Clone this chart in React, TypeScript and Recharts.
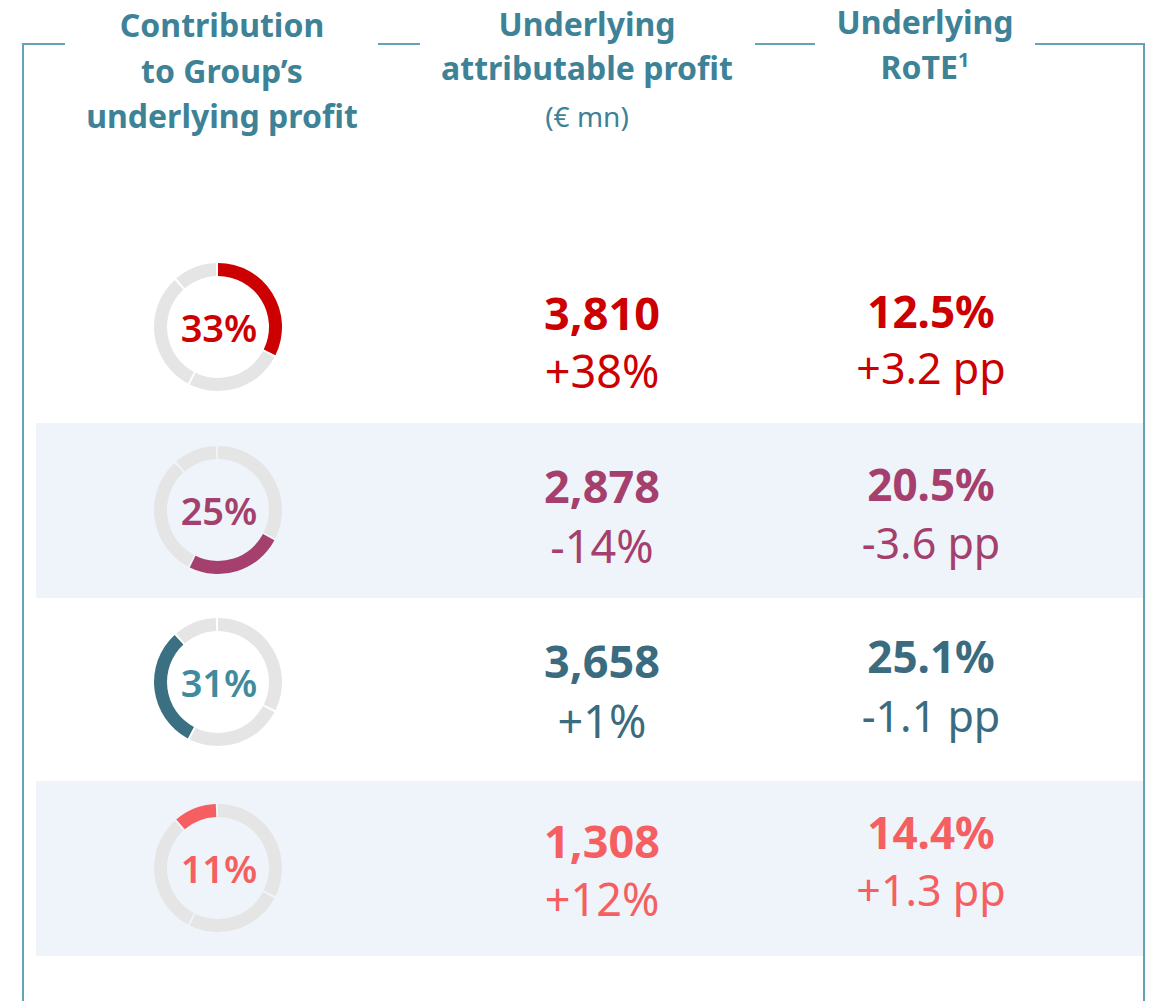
import React from 'react'
import { PieChart, Pie, Cell } from 'recharts'

// contribution of each region to Group's underlying profit (%)
const shares = [33, 25, 31, 11]
const profits = ['3,810', '2,878', '3,658', '1,308']
const profitChange = ['+38%', '-14%', '+1%', '+12%']
const rote = ['12.5%', '20.5%', '25.1%', '14.4%']
const roteChange = ['+3.2 pp', '-3.6 pp', '-1.1 pp', '+1.3 pp']

const arcColors = ['#cc0000', '#a53f6e', '#3b6f82', '#f55f61']
const pctColors = ['#cc0000', '#a53f6e', '#3f8a9d', '#f55f61']
const textColors = ['#cc0000', '#a53f6e', '#3b6b7e', '#f55f61']

// layout: donut centres and text lines per row
const rowCenters = [327, 510, 682, 868]
const profitY = [[312, 370], [485, 545], [660, 720], [840, 898]]
const roteY = [[312, 368], [485, 543], [657, 716], [833, 890]]
const shaded = [false, true, false, true]

const HEAD = '#3e8297'
const LINE = '#62a3b6'
const FONT = '"Noto Sans", "Open Sans", sans-serif'
const GRAY = '#e5e5e5'
const SHADE = '#eef4f9'

const pieData = shares.map((v, i) => ({ name: 'r' + i, value: v }))

function Txt({ x, y, size, weight, color, children, w = 400 }: any) {
  return (
    <div
      style={{
        position: 'absolute', left: x - w / 2, top: y - size * 0.7, width: w,
        textAlign: 'center', fontSize: size, fontWeight: weight, color,
        lineHeight: `${size * 1.4}px`, fontFamily: FONT, whiteSpace: 'nowrap',
      }}
    >
      {children}
    </div>
  )
}

function HLine({ x1, x2, y }: { x1: number; x2: number; y: number }) {
  return <div style={{ position: 'absolute', left: x1, top: y, width: x2 - x1, height: 2, background: LINE }} />
}

export default function App() {
  return (
    <div style={{ position: 'absolute', left: 0, top: 0, width: 1149, height: 1001, background: '#fff', overflow: 'hidden', fontFamily: FONT }}>
      {shaded.map((s, i) => s && (
        <div key={i} style={{ position: 'absolute', left: 36, top: rowCenters[i] - 87, width: 1107, height: 175, background: SHADE }} />
      ))}

      {/* frame */}
      <HLine x1={22} x2={65} y={43} />
      <HLine x1={378} x2={420} y={43} />
      <HLine x1={755} x2={815} y={43} />
      <HLine x1={1035} x2={1145} y={43} />
      <div style={{ position: 'absolute', left: 22, top: 43, width: 2, height: 960, background: LINE }} />
      <div style={{ position: 'absolute', left: 1143, top: 43, width: 2, height: 960, background: LINE }} />

      {/* headers */}
      <Txt x={222} y={25} size={32} weight={700} color={HEAD}>Contribution</Txt>
      <Txt x={222} y={71} size={32} weight={700} color={HEAD}>to Group’s</Txt>
      <Txt x={222} y={116} size={32} weight={700} color={HEAD}>underlying profit</Txt>
      <Txt x={587} y={24} size={32} weight={700} color={HEAD}>Underlying</Txt>
      <Txt x={587} y={68} size={32} weight={700} color={HEAD}>attributable profit</Txt>
      <Txt x={587} y={117} size={28} weight={400} color={HEAD}>(€ mn)</Txt>
      <Txt x={925} y={22} size={32} weight={700} color={HEAD}>Underlying</Txt>
      <Txt x={925} y={67} size={32} weight={700} color={HEAD}>RoTE<sup style={{ fontSize: 20, verticalAlign: 'top', lineHeight: '30px' }}>1</sup></Txt>

      <div style={{ position: 'absolute', left: 0, top: 0 }}>
        <PieChart width={1149} height={1001} margin={{ top: 0, right: 0, bottom: 0, left: 0 }}>
          {shares.map((_, i) => (
            <Pie
              key={i}
              data={pieData}
              dataKey="value"
              cx={218}
              cy={rowCenters[i]}
              innerRadius={51}
              outerRadius={64}
              startAngle={90}
              endAngle={-270}
              paddingAngle={2}
              stroke="none"
              isAnimationActive={false}
            >
              {pieData.map((_, j) => (
                <Cell key={j} fill={j === i ? arcColors[i] : GRAY} />
              ))}
            </Pie>
          ))}
        </PieChart>
      </div>

      {shares.map((s, i) => (
        <React.Fragment key={i}>
          <Txt x={219} y={rowCenters[i] + 1} size={38} weight={600} color={pctColors[i]}>{s}%</Txt>
          <Txt x={602} y={profitY[i][0]} size={45} weight={700} color={textColors[i]}>{profits[i]}</Txt>
          <Txt x={602} y={profitY[i][1]} size={45} weight={400} color={textColors[i]}>{profitChange[i]}</Txt>
          <Txt x={931} y={roteY[i][0]} size={44} weight={700} color={textColors[i]}>{rote[i]}</Txt>
          <Txt x={931} y={roteY[i][1]} size={43} weight={400} color={textColors[i]}>{roteChange[i]}</Txt>
        </React.Fragment>
      ))}
    </div>
  )
}
